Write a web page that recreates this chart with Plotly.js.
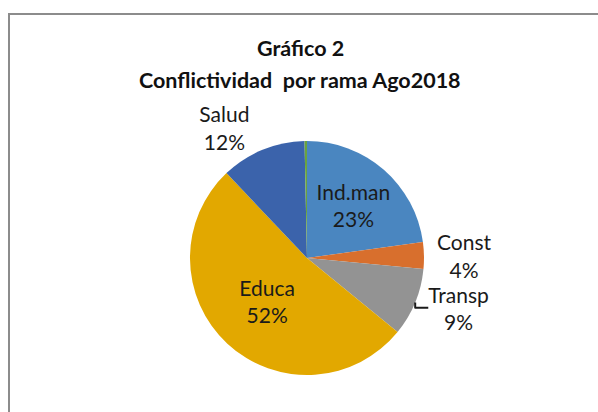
<!DOCTYPE html>
<html>
<head>
<meta charset="utf-8">
<script src="https://cdn.plot.ly/plotly-3.0.1.min.js"></script>
<style>
  html, body { margin: 0; padding: 0; background: #ffffff; overflow: hidden; width: 598px; height: 412px; }
  #chart { position: absolute; left: 0; top: 0; width: 598px; height: 412px; z-index: 1; }
  #frame { position: absolute; left: 8px; top: 13px; width: 600px; height: 410px; z-index: 50;
           border-left: 2px solid #8c8c8c; border-top: 2px solid #8c8c8c; pointer-events: none; box-sizing: border-box; }
</style>
</head>
<body>
<div id="chart"></div>
<div id="frame"></div>
<script>
// Data
const categories = ["Ind.man", "Const", "Transp", "Educa", "Salud", "Otros"];
const values = [68, 11, 28, 155, 35, 1];
const displayLabels = ["Ind.man<br>23%", "Const<br>4%", "Transp<br>9%", "Educa<br>52%", "Salud<br>12%", ""];
const titleLines = ["Gráfico 2", "Conflictividad  por rama Ago2018"];

const colors = ["#4a86c0", "#d86f2d", "#939393", "#e2a800", "#3b63ab", "#6aa33f"];
const positions = ["inside", "outside", "outside", "inside", "outside", "none"];

const labelFont = { family: "Lato, 'Open Sans', sans-serif", size: 21, color: "#1a1a1a" };
const titleFont = { family: "Lato, 'Open Sans', sans-serif", size: 21.5, color: "#111111" };

const trace = {
  type: "pie",
  labels: categories,
  values: values,
  text: displayLabels,
  textinfo: "text",
  textposition: positions,
  insidetextorientation: "horizontal",
  sort: false,
  direction: "clockwise",
  rotation: 0,
  marker: { colors: colors, line: { width: 0 } },
  textfont: labelFont,
  insidetextfont: labelFont,
  outsidetextfont: labelFont,
  hoverinfo: "label+percent",
  domain: { x: [0.3177, 0.7090], y: [0.0898, 0.6578] },
  showlegend: false
};

const layout = {
  width: 598,
  height: 412,
  margin: { l: 0, r: 0, t: 0, b: 0 },
  paper_bgcolor: "#ffffff",
  plot_bgcolor: "#ffffff",
  showlegend: false,
  annotations: [
    { text: "<b>" + titleLines[0] + "</b>", xref: "paper", yref: "paper", x: 0.502, y: 0.8835,
      xanchor: "center", yanchor: "middle", showarrow: false, font: titleFont },
    { text: "<b>" + titleLines[1] + "</b>", xref: "paper", yref: "paper", x: 0.502, y: 0.806,
      xanchor: "center", yanchor: "middle", showarrow: false, font: titleFont }
  ]
};

Plotly.newPlot("chart", [trace], layout, { staticPlot: true, displayModeBar: false });
</script>
</body>
</html>
